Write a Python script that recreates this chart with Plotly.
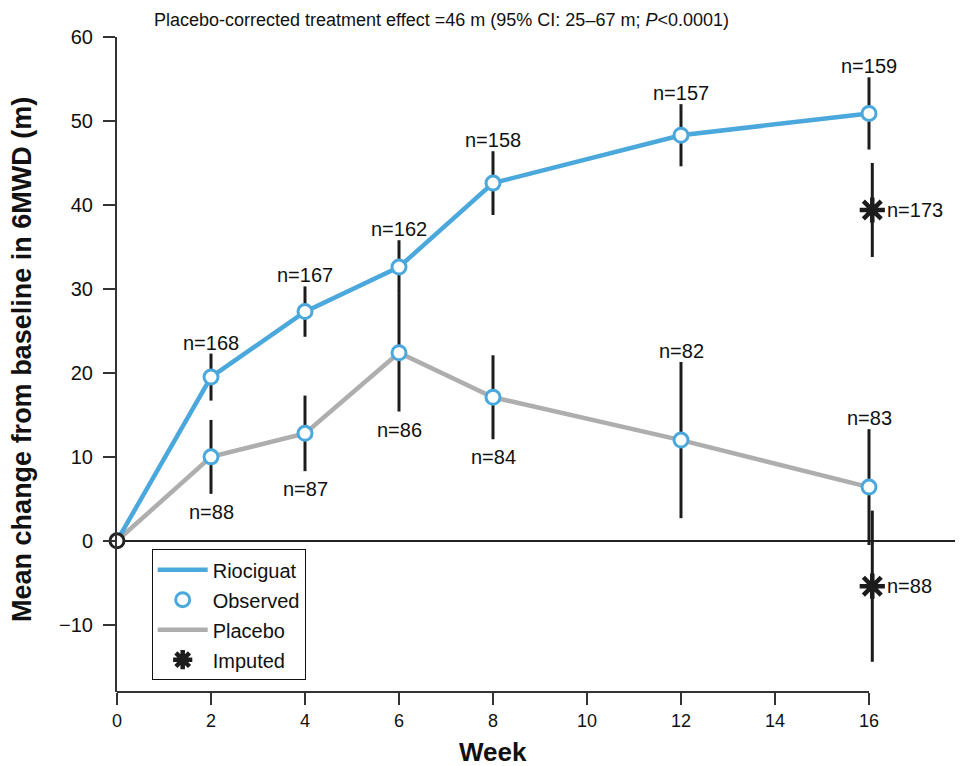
import plotly.graph_objects as go

# ---- data ----
weeks = [0, 2, 4, 6, 8, 12, 16]
riociguat_mean = [0, 19.5, 27.3, 32.6, 42.6, 48.3, 50.9]
riociguat_err = [0, 2.8, 3.0, 3.2, 3.8, 3.7, 4.3]
riociguat_n = ["", "n=168", "n=167", "n=162", "n=158", "n=157", "n=159"]

placebo_mean = [0, 10.0, 12.8, 22.4, 17.1, 12.0, 6.4]
placebo_err = [0, 4.4, 4.5, 7.0, 5.0, 9.3, 6.9]
placebo_n = ["", "n=88", "n=87", "n=86", "n=84", "n=82", "n=83"]
placebo_label_side = ["", "below", "below", "below", "below", "above", "above"]

imputed_week = [16, 16]
imputed_mean = [39.4, -5.4]
imputed_err = [5.6, 9.0]
imputed_n = ["n=173", "n=88"]

x_ticks = [0, 2, 4, 6, 8, 10, 12, 14, 16]
y_ticks = [-10, 0, 10, 20, 30, 40, 50, 60]
y_tick_text = ["\u221210", "0", "10", "20", "30", "40", "50", "60"]

title_text = ("Placebo-corrected treatment effect =46 m (95% CI: 25\u201367 m; "
              "<i>P</i><0.0001)")

# ---- style ----
BLUE = "#4aa8dc"
GRAY = "#aeaeae"
BAR = "#1c1c1c"
FONT = "Liberation Sans, Arial, sans-serif"
NARROW = "Liberation Sans Narrow, Liberation Sans, Arial, sans-serif"
IMPUTED_OFFSET = 0.07

fig = go.Figure()

# lines
fig.add_trace(go.Scatter(x=weeks, y=placebo_mean, mode="lines",
                         line=dict(color=GRAY, width=4.5), name="Placebo",
                         legendrank=3, legendgroup="c", hoverinfo="skip"))
fig.add_trace(go.Scatter(x=weeks, y=riociguat_mean, mode="lines",
                         line=dict(color=BLUE, width=4.5), name="Riociguat",
                         legendrank=1, legendgroup="a", hoverinfo="skip"))

# error bars (observed)
for means, errs in ((riociguat_mean, riociguat_err), (placebo_mean, placebo_err)):
    fig.add_trace(go.Scatter(
        x=weeks[1:], y=means[1:], mode="markers",
        marker=dict(size=0.1, color="rgba(0,0,0,0)"),
        error_y=dict(type="data", array=errs[1:], visible=True,
                     color=BAR, thickness=3, width=0),
        showlegend=False, hoverinfo="skip"))

# imputed error bars + stars
imp_x = [w + IMPUTED_OFFSET for w in imputed_week]
fig.add_trace(go.Scatter(
    x=imp_x, y=imputed_mean, mode="markers",
    marker=dict(symbol="asterisk", size=21, color=BAR,
                line=dict(color=BAR, width=4.5)),
    error_y=dict(type="data", array=imputed_err, visible=True,
                 color=BAR, thickness=3, width=0),
    name="Imputed", legendrank=4, legendgroup="d", hoverinfo="skip"))

# observed markers
fig.add_trace(go.Scatter(
    x=weeks[1:] + weeks[1:], y=riociguat_mean[1:] + placebo_mean[1:],
    mode="markers",
    marker=dict(symbol="circle", size=14, color="white",
                line=dict(color=BLUE, width=3)),
    name="Observed", legendrank=2, legendgroup="b", hoverinfo="skip"))

# origin marker
fig.add_trace(go.Scatter(
    x=weeks[:1], y=riociguat_mean[:1], mode="markers",
    marker=dict(symbol="circle", size=14, color="white",
                line=dict(color="#222222", width=3)),
    showlegend=False, hoverinfo="skip", cliponaxis=False))

LBL = dict(family=FONT, size=20, color="#111")

# n labels
ann = []
for w, m, e, t in zip(weeks, riociguat_mean, riociguat_err, riociguat_n):
    if t:
        ann.append(dict(x=w, y=m + e, xref="x", yref="y", text=t,
                        showarrow=False, yanchor="bottom", yshift=-2, font=LBL))
for w, m, e, t, s in zip(weeks, placebo_mean, placebo_err, placebo_n,
                         placebo_label_side):
    if t:
        if s == "above":
            ann.append(dict(x=w, y=m + e, xref="x", yref="y", text=t,
                            showarrow=False, yanchor="bottom", yshift=-2,
                            font=LBL))
        else:
            ann.append(dict(x=w, y=m - e, xref="x", yref="y", text=t,
                            showarrow=False, yanchor="top", yshift=-5,
                            font=LBL))
for x, m, t in zip(imp_x, imputed_mean, imputed_n):
    ann.append(dict(x=x, y=m, xref="x", yref="y", text=t, showarrow=False,
                    xanchor="left", xshift=13, font=LBL))

# axis titles
ann.append(dict(x=0, y=0.507, xref="paper", yref="paper", xanchor="center",
                yanchor="middle", xshift=-95, textangle=-90, showarrow=False,
                text="<b>Mean change from baseline in 6MWD (m)</b>",
                font=dict(family=FONT, size=27, color="#111")))
ann.append(dict(x=8, y=0, xref="x", yref="paper", xanchor="center",
                yanchor="middle", yshift=-60, showarrow=False,
                text="<b>Week</b>",
                font=dict(family=NARROW, size=26, color="#111")))
# top text
ann.append(dict(x=0.383, y=1.026, xref="paper", yref="paper",
                xanchor="center", yanchor="middle", showarrow=False,
                text=title_text, font=dict(family=FONT, size=18, color="#111")))

shapes = [
    # x-axis baseline from 0 to 16
    dict(type="line", xref="x", yref="y domain", x0=x_ticks[0], x1=x_ticks[-1],
         y0=0, y1=0, line=dict(color="#333333", width=2)),
]

fig.update_layout(
    width=955, height=758,
    margin=dict(l=109, r=0, t=29, b=74),
    plot_bgcolor="white", paper_bgcolor="white",
    showlegend=True,
    legend=dict(x=0.041, y=0.218, xanchor="left", yanchor="top",
                bordercolor="#111", borderwidth=1, bgcolor="white",
                font=dict(family=FONT, size=20, color="#111"),
                tracegroupgap=1, itemwidth=50),
    annotations=ann, shapes=shapes,
    xaxis=dict(range=[0, 18], tickvals=x_ticks, showgrid=False,
               zeroline=False, showline=False, ticks="outside", ticklen=12,
               tickwidth=2, tickcolor="#333333",
               tickfont=dict(family=NARROW, size=18, color="#111")),
    yaxis=dict(range=[-18, 60], tickvals=y_ticks, ticktext=y_tick_text,
               showgrid=False, zeroline=True, zerolinecolor="#222222",
               zerolinewidth=2, showline=True, linecolor="#333333",
               linewidth=2, ticks="outside", ticklen=12, tickwidth=2,
               tickcolor="#333333", ticklabelstandoff=6,
               tickfont=dict(family=FONT, size=20, color="#111")),
)

fig.write_html("out.html")
